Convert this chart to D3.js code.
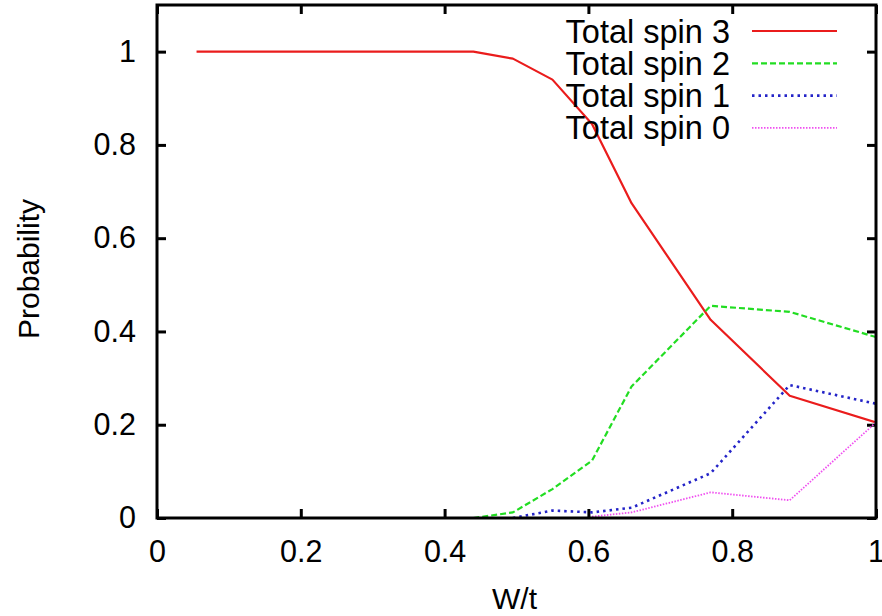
<!DOCTYPE html>
<html>
<head>
<meta charset="utf-8">
<script src="https://cdn.jsdelivr.net/npm/d3@7"></script>
<style>
  html, body { margin: 0; padding: 0; background: #fff; }
  text { font-family: "Liberation Sans", Arial, Helvetica, sans-serif; }
</style>
</head>
<body>
<svg id="chart" width="882" height="616"></svg>
<script>
// ---- data ----
const spin3X = [0.055, 0.11, 0.165, 0.22, 0.275, 0.33, 0.385, 0.44, 0.495, 0.55, 0.605, 0.66, 0.77, 0.88, 1.0];
const spin3Y = [1, 1, 1, 1, 1, 1, 1, 1, 0.985, 0.94, 0.845, 0.675, 0.425, 0.262, 0.205];

const spin2X = [0.44, 0.495, 0.55, 0.605, 0.66, 0.77, 0.88, 1.0];
const spin2Y = [0, 0.012, 0.062, 0.123, 0.282, 0.455, 0.442, 0.388];

const spin1X = [0.495, 0.55, 0.605, 0.66, 0.77, 0.88, 1.0];
const spin1Y = [0, 0.016, 0.012, 0.022, 0.096, 0.285, 0.245];

const spin0X = [0.605, 0.66, 0.77, 0.88, 1.0];
const spin0Y = [0.003, 0.012, 0.055, 0.038, 0.205];

const seriesNames = ["Total spin 3", "Total spin 2", "Total spin 1", "Total spin 0"];
const xTicks = [0, 0.2, 0.4, 0.6, 0.8, 1];
const yTicks = [0, 0.2, 0.4, 0.6, 0.8, 1];
const xLabel = "W/t";
const yLabel = "Probability";

// ---- layout ----
const W = 882, H = 616;
const margin = { left: 157, top: 5, right: 6, bottom: 98 };
const iw = W - margin.left - margin.right;
const ih = H - margin.top - margin.bottom;

const svg = d3.select("#chart");
const g = svg.append("g").attr("transform", `translate(${margin.left},${margin.top})`);

const x = d3.scaleLinear().domain([0, 1]).range([0, iw]);
const y = d3.scaleLinear().domain([0, 1.1]).range([ih, 0]);

const styles = [
  { color: "#ea1c1c", dash: null, width: 2.2 },
  { color: "#22dd22", dash: "6,3", width: 2.2 },
  { color: "#2424c8", dash: "2.5,4", width: 2.6 },
  { color: "#f050f0", dash: "1.5,1.5", width: 1.8 }
];

const series = [
  d3.zip(spin3X, spin3Y),
  d3.zip(spin2X, spin2Y),
  d3.zip(spin1X, spin1Y),
  d3.zip(spin0X, spin0Y)
];

// clip
svg.append("defs").append("clipPath").attr("id", "clip")
  .append("rect").attr("x", 0).attr("y", 0).attr("width", iw).attr("height", ih);

// axes (ticks inward)
const fmt = d => (d === 0 || d === 1) ? d3.format("d")(d) : d3.format(".1f")(d);
const xAxis = g.append("g").attr("transform", `translate(0,${ih})`)
  .call(d3.axisBottom(x).tickValues(xTicks).tickFormat(fmt).tickSizeInner(-9).tickSizeOuter(0).tickPadding(22));
const yAxis = g.append("g")
  .call(d3.axisLeft(y).tickValues(yTicks).tickFormat(fmt).tickSizeInner(-9).tickSizeOuter(0).tickPadding(21));
const xTop = g.append("g")
  .call(d3.axisTop(x).tickValues(xTicks).tickFormat("").tickSizeInner(-9).tickSizeOuter(0));
const yRight = g.append("g").attr("transform", `translate(${iw},0)`)
  .call(d3.axisRight(y).tickValues(yTicks).tickFormat("").tickSizeInner(-9).tickSizeOuter(0));

[xAxis, yAxis, xTop, yRight].forEach(a => {
  a.select(".domain").remove();
  a.selectAll(".tick line").attr("stroke", "#000").attr("stroke-width", 3);
  a.selectAll(".tick text").attr("font-size", 30.5).attr("fill", "#000")
    .style("font-family", "'Liberation Sans', Arial, sans-serif");
});

// lines
const line = d3.line().x(d => x(d[0])).y(d => y(d[1]));
const lines = g.append("g").attr("clip-path", "url(#clip)");
series.forEach((s, i) => {
  lines.append("path").datum(s)
    .attr("d", line)
    .attr("fill", "none")
    .attr("stroke", styles[i].color)
    .attr("stroke-width", styles[i].width)
    .attr("stroke-dasharray", styles[i].dash)
    .attr("stroke-linejoin", "round");
});

// frame
g.append("rect").attr("x", 0).attr("y", 0).attr("width", iw).attr("height", ih)
  .attr("fill", "none").attr("stroke", "#000").attr("stroke-width", 3);

// legend
const legend = svg.append("g");
seriesNames.forEach((name, i) => {
  const cy = 31 + i * 32.3;
  legend.append("text").attr("x", 730).attr("y", cy + 11.5)
    .attr("text-anchor", "end").attr("font-size", 32.5).attr("fill", "#000")
    .text(name);
  legend.append("line").attr("x1", 752).attr("x2", 837).attr("y1", cy).attr("y2", cy)
    .attr("stroke", styles[i].color).attr("stroke-width", styles[i].width)
    .attr("stroke-dasharray", styles[i].dash);
});

// axis labels
svg.append("text").attr("x", margin.left + x(0.5) - 2).attr("y", 609)
  .attr("text-anchor", "middle").attr("font-size", 30).attr("fill", "#000").text(xLabel);
svg.append("text").attr("transform", `translate(39,269) rotate(-90)`)
  .attr("text-anchor", "middle").attr("font-size", 30).attr("fill", "#000").text(yLabel);
</script>
</body>
</html>
